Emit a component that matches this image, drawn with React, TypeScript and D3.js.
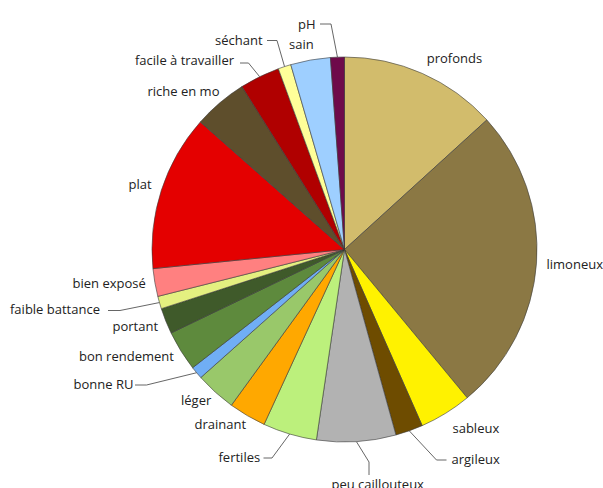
import React from "react";
import * as d3 from "d3";

// Categories (clockwise from 12 o'clock)
const categories = [
  "profonds", "limoneux", "sableux", "argileux", "peu caillouteux", "fertiles",
  "drainant", "léger", "bonne RU", "bon rendement", "portant", "faible battance",
  "bien exposé", "plat", "riche en mo", "facile à travailler", "séchant", "sain", "pH",
];
// Share of each category
const values = [
  47.7, 92.7, 15.8, 8.3, 23.9, 16.3,
  11.3, 12.3, 3.8, 12.2, 7.8, 3.8,
  8.4, 47.2, 16.3, 12.1, 3.9, 12.0, 4.2,
];
const colors = [
  "#D2BC6C", "#8B7844", "#FFF200", "#6E4C00", "#B2B2B2", "#BCF07C",
  "#FFA800", "#99C86A", "#70AEF5", "#5E8A3D", "#3F5A2A", "#E4F080",
  "#FF8080", "#E40000", "#5E4E2C", "#B00000", "#FFFF99", "#9ECFFF", "#6E0A4A",
];

// Label layout: text start x, baseline y, and optional leader elbow (ex, ey) & leader start (sx, sy)
type Lab = { x: number; y: number; lead?: [number, number][] };
const labelLayout: Lab[] = [
  { x: 426.7, y: 62.5 },
  { x: 546.5, y: 268.5 },
  { x: 452.5, y: 432.5 },
  { x: 451.5, y: 464, lead: [[446.5, 460], [436.5, 460]] },
  { x: 331.5, y: 489, lead: [[369, 475], [369, 462]] },
  { x: 218.5, y: 461.5, lead: [[263.5, 458], [272, 458]] },
  { x: 194.5, y: 428.5 },
  { x: 181, y: 405 },
  { x: 73.5, y: 389, lead: [[135, 385], [146.5, 385]] },
  { x: 79, y: 360.5 },
  { x: 112.5, y: 330.5 },
  { x: 10, y: 314, lead: [[108, 310.5], [120, 310.5]] },
  { x: 72.5, y: 288 },
  { x: 128.5, y: 189 },
  { x: 147.5, y: 96 },
  { x: 135, y: 65, lead: [[240, 63], [248.5, 63]] },
  { x: 215, y: 44.5, lead: [[267, 40.5], [277, 40.5]] },
  { x: 289, y: 49 },
  { x: 298, y: 28.5, lead: [[320, 24], [331, 24]] },
];

const W = 603;
const H = 488;
const cx = 344.5;
const cy = 249.5;
const R = 192.5;

export default function App() {
  const data = categories.map((c, i) => ({ name: c, value: values[i], color: colors[i] }));
  const pie = d3
    .pie<{ name: string; value: number; color: string }>()
    .sort(null)
    .value((d) => d.value)
    .startAngle(0)
    .endAngle(2 * Math.PI);
  const arcs = pie(data);
  const arc = d3
    .arc<d3.PieArcDatum<{ name: string; value: number; color: string }>>()
    .innerRadius(0)
    .outerRadius(R);

  const line = d3.line();

  return (
    <svg
      width={W}
      height={H}
      style={{ position: "absolute", left: 0, top: 0, background: "#fff" }}
      fontFamily="'Open Sans', 'Noto Sans', sans-serif"
      fontSize={13}
    >
      <g transform={`translate(${cx},${cy})`}>
        {arcs.map((a, i) => (
          <path
            key={i}
            d={arc(a) || ""}
            fill={a.data.color}
            stroke="#3a3a3a"
            strokeWidth={0.6}
            strokeLinejoin="round"
          />
        ))}
      </g>
      {arcs.map((a, i) => {
        const lab = labelLayout[i];
        if (!lab.lead) return null;
        const mid = (a.startAngle + a.endAngle) / 2;
        const px = cx + R * Math.sin(mid);
        const py = cy - R * Math.cos(mid);
        const pts: [number, number][] = [...lab.lead, [px, py]];
        return (
          <path key={"l" + i} d={line(pts) || ""} fill="none" stroke="#555" strokeWidth={0.9} />
        );
      })}
      {arcs.map((a, i) => {
        const lab = labelLayout[i];
        return (
          <text key={"t" + i} x={lab.x} y={lab.y} fill="#222">
            {a.data.name}
          </text>
        );
      })}
    </svg>
  );
}
